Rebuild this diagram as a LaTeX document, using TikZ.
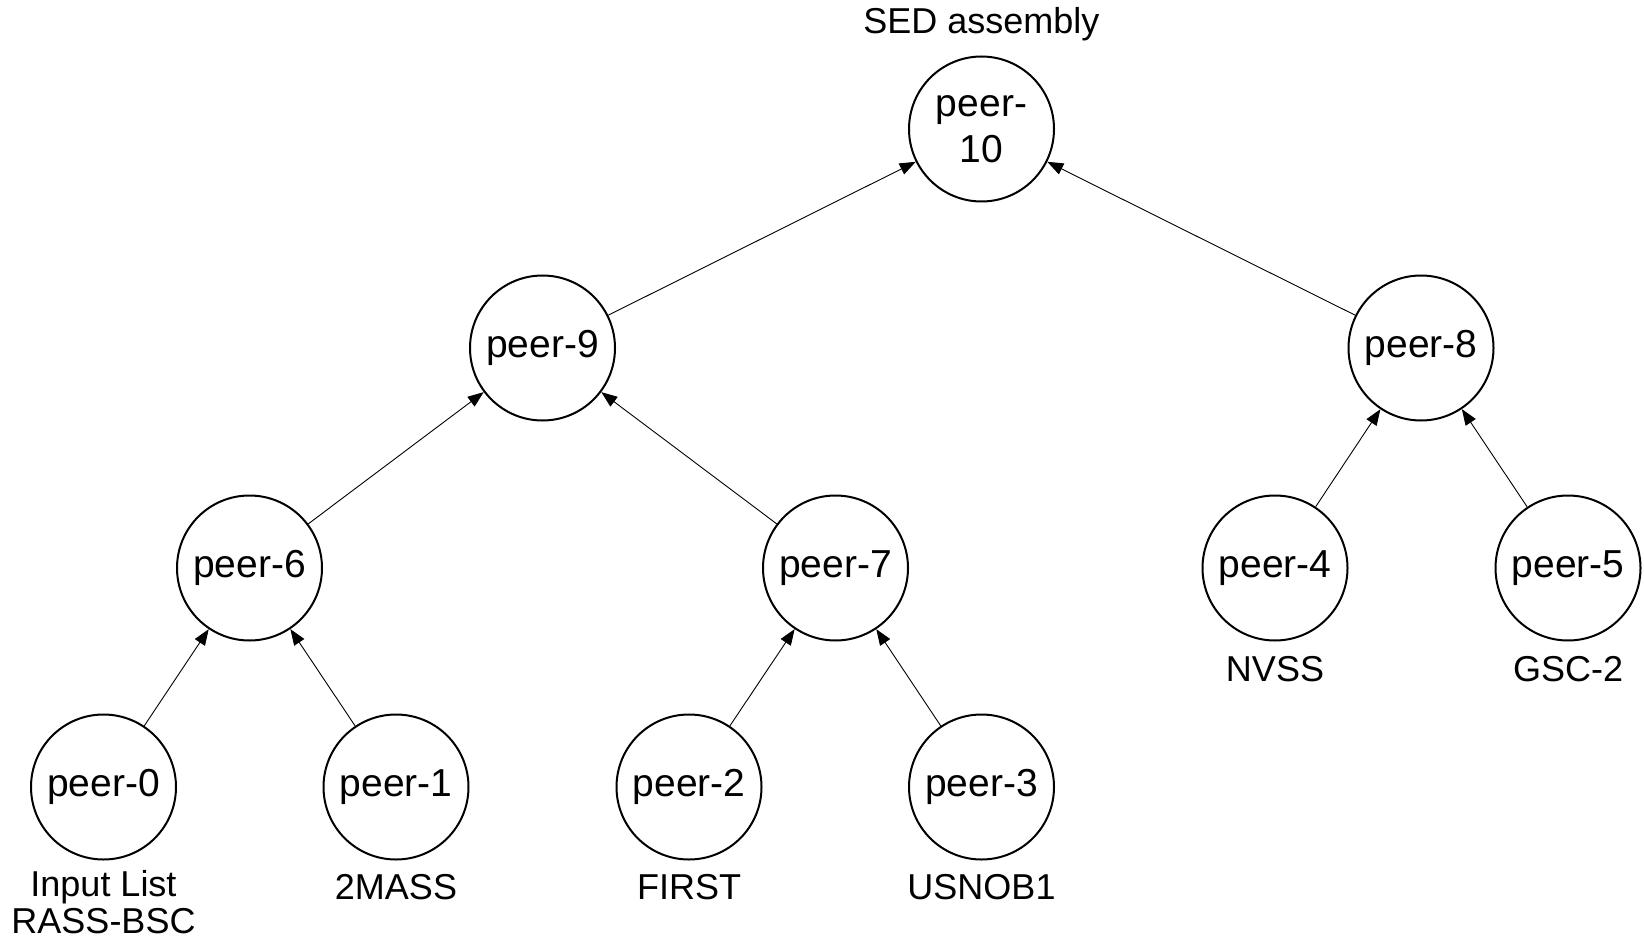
\documentclass[tikz,border=0pt]{standalone}
\usepackage{fontspec}
\setmainfont{Liberation Sans}
\usetikzlibrary{arrows.meta}
\begin{document}
\begin{tikzpicture}[x=1pt,y=-1pt,
  peer/.style={circle,draw,line width=2pt,minimum size=145pt,inner sep=0pt,
    font=\fontsize{39}{42}\selectfont,align=center},
  lbl/.style={anchor=base,inner sep=0pt,font=\fontsize{36}{36}\selectfont},
  link/.style={line width=0.9pt,-{Triangle[length=16pt,width=12pt]}}]
\useasboundingbox (0,0) rectangle (1644,944);
% peers
\node[peer] (p10) at (981.5,129) {peer-\\[4pt]10};
\node[peer] (p9) at (542.5,348) {peer-9};
\node[peer] (p8) at (1421,348) {peer-8};
\node[peer] (p6) at (249.5,568) {peer-6};
\node[peer] (p7) at (835.5,568) {peer-7};
\node[peer] (p4) at (1275,568) {peer-4};
\node[peer] (p5) at (1568,568) {peer-5};
\node[peer] (p0) at (103.5,787) {peer-0};
\node[peer] (p1) at (396,787) {peer-1};
\node[peer] (p2) at (689,787) {peer-2};
\node[peer] (p3) at (981.5,787) {peer-3};
% labels
\node[lbl] (tsed) at (981.5,34) {SED assembly};
\node[lbl] (t0a) at (103.5,896) {Input List};
\node[lbl] (t0b) at (103.5,933) {RASS-BSC};
\node[lbl] (t1) at (396,899) {2MASS};
\node[lbl] (t2) at (689,899) {FIRST};
\node[lbl] (t3) at (981.5,899) {USNOB1};
\node[lbl] (t4) at (1275,681) {NVSS};
\node[lbl] (t5) at (1568,681) {GSC-2};
% links
\draw[link] (p0) -- (p6);
\draw[link] (p1) -- (p6);
\draw[link] (p2) -- (p7);
\draw[link] (p3) -- (p7);
\draw[link] (p6) -- (p9);
\draw[link] (p7) -- (p9);
\draw[link] (p4) -- (p8);
\draw[link] (p5) -- (p8);
\draw[link] (p9) -- (p10);
\draw[link] (p8) -- (p10);
\end{tikzpicture}
\end{document}
